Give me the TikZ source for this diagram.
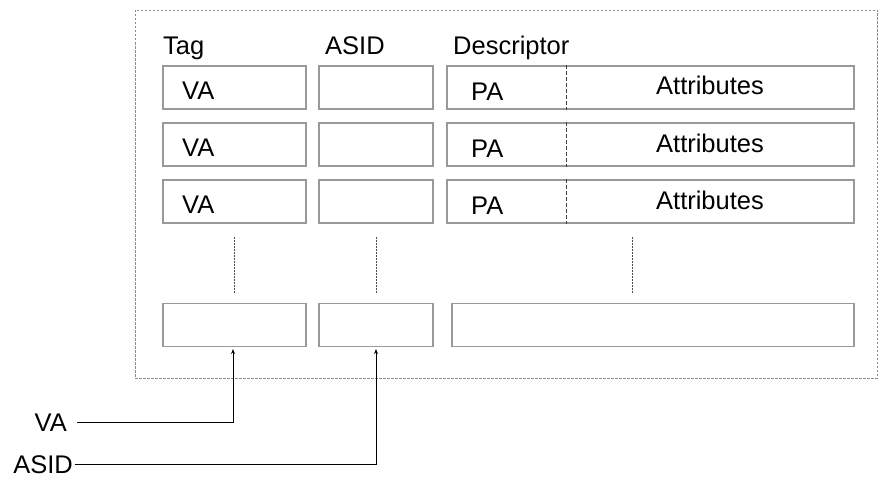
\documentclass[tikz,border=0pt]{standalone}
\usepackage{fontspec}
\setmainfont{Liberation Sans}
\usetikzlibrary{arrows.meta}
\begin{document}
\begin{tikzpicture}[x=1pt,y=-1pt,
  cell/.style={draw=black!40, line width=1.1pt, inner sep=0, minimum height=43pt},
  tagcell/.style={cell, minimum width=143pt},
  asidcell/.style={cell, minimum width=114pt},
  desccell/.style={cell, minimum width=407pt},
  txt/.style={inner sep=0, font=\fontsize{25.5}{29}\selectfont},
  outer/.style={draw=black!45, line width=0.8pt, dash pattern=on 2.5pt off 1.5pt},
  divider/.style={draw=black!75, line width=0.9pt, dash pattern=on 4pt off 2pt},
  vdots/.style={draw=black!70, line width=1pt, dash pattern=on 2pt off 1pt},
  conn/.style={draw=black, line width=1pt, -{Stealth[length=5pt,width=4pt]}, shorten >=2pt}
]
\useasboundingbox (0,0) rectangle (882,476);
% outer frame
\node[outer, inner sep=0, minimum width=742pt, minimum height=368pt] (frame) at (506,194) {};
% headers
\node[txt, anchor=base west] (htag) at (163,55) {Tag};
\node[txt, anchor=base west] (hasid) at (325,55) {ASID};
\node[txt, anchor=base west] (hdesc) at (453,55) {Descriptor};
% rows
\foreach \i/\y in {1/87.5, 2/144.5, 3/201.5} {
  \node[tagcell] (t\i) at (234.5,\y) {};
  \node[asidcell] (a\i) at (376,\y) {};
  \node[desccell] (d\i) at (650.5,\y) {};
  \node[txt, anchor=base west] (va\i) at (182,\y+12) {VA};
  \node[txt, anchor=base west] (pa\i) at (471,\y+12.5) {PA};
  \node[txt, anchor=base] (at\i) at (710,\y+7.5) {Attributes};
  \coordinate (dv\i) at (566,\y);
  \draw[divider] (dv\i |- d\i.north) -- (dv\i |- d\i.south);
}
% continuation lines
\coordinate (c1t) at (234,237); \coordinate (c1b) at (234,293);
\coordinate (c2t) at (376,237); \coordinate (c2b) at (376,293);
\coordinate (c3t) at (632,237); \coordinate (c3b) at (632,293);
\draw[vdots] (c1t) -- (c1b);
\draw[vdots] (c2t) -- (c2b);
\draw[vdots] (c3t) -- (c3b);
% bottom row
\node[tagcell] (tb) at (234.5,325) {};
\node[asidcell] (ab) at (376,325) {};
\node[cell, minimum width=402pt] (db) at (653,325) {};
% inputs
\node[txt, anchor=base east] (inva) at (67,431) {VA};
\node[txt, anchor=base east] (inasid) at (73,473.5) {ASID};
\draw[conn] ([xshift=10pt]inva.east) -| ([xshift=-1.5pt]tb.south);
\draw[conn] ([xshift=1.5pt]inasid.east) -| (ab.south);
\end{tikzpicture}
\end{document}
